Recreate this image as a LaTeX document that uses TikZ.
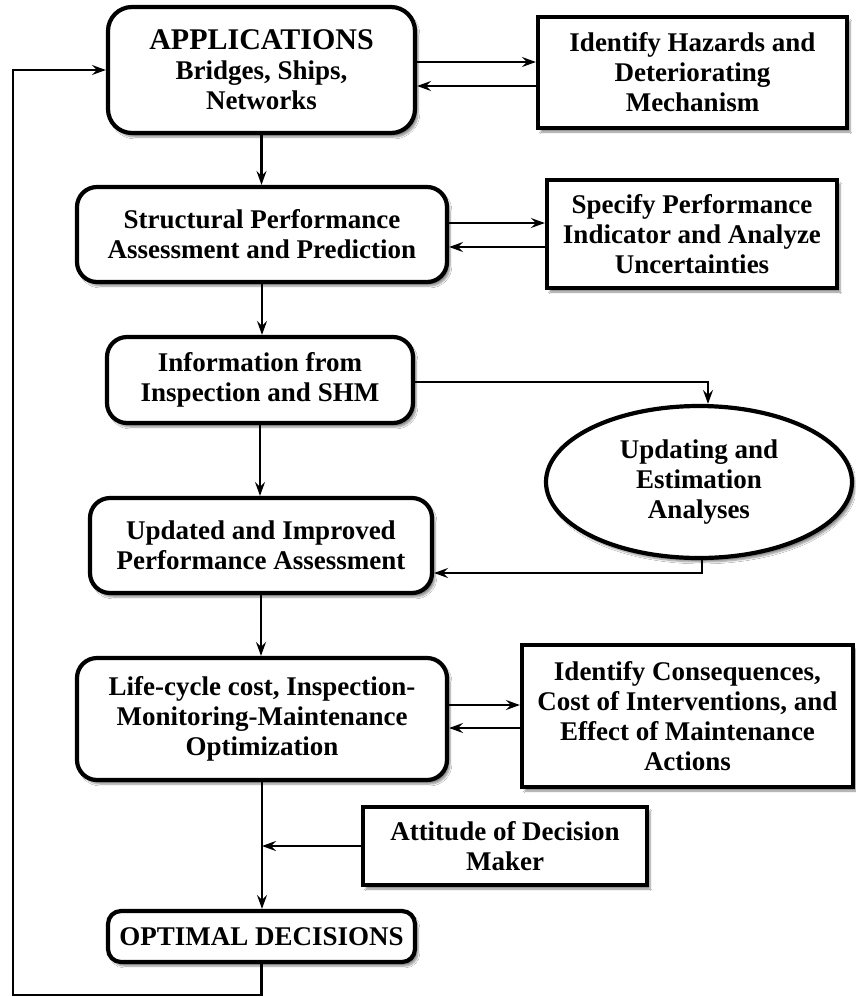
\documentclass[tikz,border=0pt]{standalone}
\usepackage{fontspec}
\setmainfont{Liberation Serif}
\usetikzlibrary{arrows.meta,shapes.geometric,shadows.blur,calc}
\begin{document}
\begin{tikzpicture}[x=1pt,y=-1pt,
  txt/.style={font=\bfseries\fontsize{27}{30}\selectfont, align=center, inner sep=0pt},
  shd/.style={blur shadow={shadow xshift=3pt, shadow yshift=-4pt, shadow blur steps=6, shadow opacity=45}},
  rbox/.style={txt, draw, line width=4.2pt, rounded corners=20pt, fill=white, shd},
  sbox/.style={txt, draw, line width=4.2pt, fill=white, shd},
  ebox/.style={txt, draw, ellipse, line width=4.2pt, fill=white, shd},
  arr/.style={-{Stealth[length=14pt,width=10pt,inset=5pt]}, line width=2.8pt}]
\useasboundingbox (0,0) rectangle (855,997);
\fill[white] (0,0) rectangle (855,997);

\node[rbox, minimum width=307pt, minimum height=126pt, rounded corners=24pt] (app) at (261.5,70)
  {{\fontsize{30}{36}\selectfont APPLICATIONS}\\Bridges, Ships,\\Networks};
\node[sbox, minimum width=309pt, minimum height=111pt] (haz) at (692.5,72.5)
  {Identify Hazards and\\Deteriorating\\Mechanism};
\node[rbox, minimum width=370pt, minimum height=95pt] (spa) at (262,234.5)
  {Structural Performance\\Assessment and Prediction};
\node[sbox, minimum width=290pt, minimum height=108pt] (spi) at (692,234)
  {Specify Performance\\Indicator and Analyze\\Uncertainties};
\node[rbox, minimum width=306pt, minimum height=86pt] (inf) at (260,380)
  {Information from\\Inspection and SHM};
\node[ebox, minimum width=306pt, minimum height=152pt] (ell) at (699,482)
  {Updating and\\Estimation\\Analyses};
\node[rbox, minimum width=342pt, minimum height=95pt] (upd) at (261,545.5)
  {Updated and Improved\\Performance Assessment};
\node[rbox, minimum width=370pt, minimum height=122pt] (lcc) at (262,719)
  {Life-cycle cost, Inspection-\\Monitoring-Maintenance\\Optimization};
\node[sbox, minimum width=331pt, minimum height=142pt] (con) at (687.5,716)
  {Identify Consequences,\\Cost of Interventions, and\\Effect of Maintenance\\Actions};
\node[sbox, minimum width=284pt, minimum height=78pt] (att) at (505,846)
  {Attitude of Decision\\Maker};
\node[rbox, minimum width=307pt, minimum height=51pt, rounded corners=13pt] (opt) at (261.5,936.5)
  {OPTIMAL DECISIONS};

\coordinate (fb) at (13,995);

% main chain
\draw[arr] (app.south) -- (app.south |- spa.north);
\draw[arr] (spa.south) -- (spa.south |- inf.north);
\draw[arr] (inf.south) -- (inf.south |- upd.north);
\draw[arr] (upd.south) -- (upd.south |- lcc.north);
\draw[arr] (lcc.south) -- (lcc.south |- opt.north);

% side pairs
\draw[arr] ([yshift=8pt]app.east) -- ([yshift=8pt]app.east -| haz.west);
\draw[arr] ([yshift=-16pt]app.east -| haz.west) -- ([yshift=-16pt]app.east);
\draw[arr] ([yshift=11.5pt]spa.east) -- ([yshift=11.5pt]spa.east -| spi.west);
\draw[arr] ([yshift=-12.5pt]spa.east -| spi.west) -- ([yshift=-12.5pt]spa.east);
\draw[arr] ([yshift=14pt]lcc.east) -- ([yshift=14pt]lcc.east -| con.west);
\draw[arr] ([yshift=-9pt]lcc.east -| con.west) -- ([yshift=-9pt]lcc.east);

% updating loop
\draw[arr] ([yshift=-2pt]inf.east) -| ([xshift=9pt]ell.north);
\draw[arr] ([xshift=3pt]ell.south) |- ([yshift=-27.5pt]upd.east);

% attitude
\draw[arr] (att.west) -- (att.west -| lcc.south);

% feedback
\draw[arr] (opt.south) |- (fb) |- (app.west);
\end{tikzpicture}
\end{document}
